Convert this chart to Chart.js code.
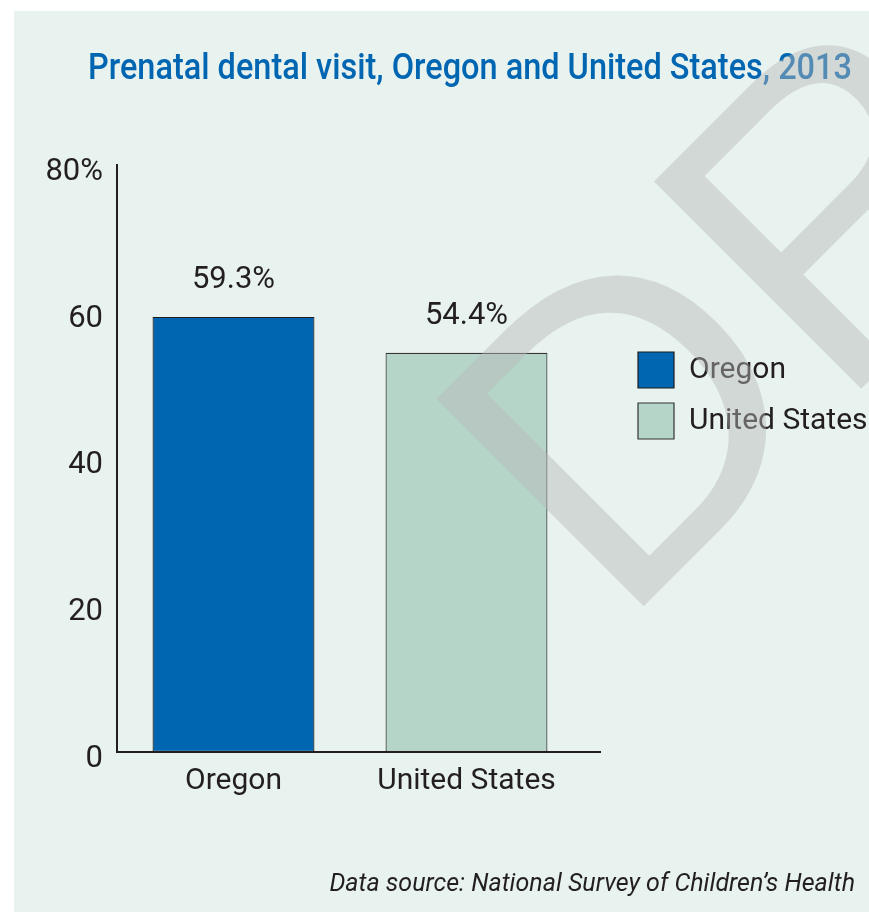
<!DOCTYPE html>
<html>
<head>
<meta charset="utf-8">
<script src="https://cdn.jsdelivr.net/npm/chart.js@4/dist/chart.umd.min.js"></script>
<style>
  html, body { margin: 0; padding: 0; background: #ffffff; }
  canvas { display: block; }
</style>
</head>
<body>
<canvas id="chart" width="869" height="912"></canvas>
<script>
// ---- data ----
const categories = ['Oregon', 'United States'];
const seriesNames = ['Oregon', 'United States'];
const oregonSeries = [59.3, null];
const unitedStatesSeries = [null, 54.4];
const yTickValues = [0, 20, 40, 60, 80];
const chartTitle = 'Prenatal dental visit, Oregon and United States, 2013';
const sourceNote = 'Data source: National Survey of Children’s Health';
const watermarkText = 'DRAFT';

// ---- look ----
const FONT = "Roboto, 'Liberation Sans', sans-serif";
const INK = '#231f20';
const PANEL = '#e8f2ef';
const BLUE = '#0066b1';
const SAGE = '#b5d5c8';
const NUM_SIZE = 31;   // numbers on the axis and above the bars
const WORD_SIZE = 30;  // category names and legend entries
const TITLE_LEFT = 88, TITLE_RIGHT = 852, TITLE_BASE = 79;

// legend geometry
const legendBox = 36;
const legendPad = 15;
const plotLeft = 117, plotRight = 583, legendGap = 40, yAxisWidth = 80;
const legendRoom = 869 - plotRight - legendGap;
const measure = document.createElement('canvas').getContext('2d');
measure.font = WORD_SIZE + 'px ' + FONT;
const widestName = Math.max(...seriesNames.map(s => measure.measureText(s).width));
const legendNatural = legendPad + legendBox + WORD_SIZE / 2 + widestName + 10;
const padRight = Math.max(0, legendRoom - legendNatural);

// background panel behind the chart
const panelPlugin = {
  id: 'panel',
  beforeDraw(chart) {
    const c = chart.ctx;
    c.save();
    c.fillStyle = '#ffffff';
    c.fillRect(0, 0, chart.width, chart.height);
    c.fillStyle = PANEL;
    c.fillRect(14, 11, chart.width - 14, chart.height - 11);
    c.restore();
  }
};

// x axis rule, running a little past the plot
const axisPlugin = {
  id: 'axisRule',
  afterDatasetsDraw(chart) {
    const c = chart.ctx, a = chart.chartArea;
    const y0 = chart.scales.y.getPixelForValue(0);
    c.save();
    c.strokeStyle = INK;
    c.lineWidth = 2;
    c.beginPath();
    c.moveTo(a.left, y0);
    c.lineTo(a.right + 18, y0);
    c.stroke();
    c.restore();
  }
};

// value labels above each bar
const valueLabelPlugin = {
  id: 'valueLabels',
  afterDatasetsDraw(chart) {
    const c = chart.ctx;
    c.save();
    c.font = NUM_SIZE + 'px ' + FONT;
    c.fillStyle = INK;
    c.textAlign = 'center';
    c.textBaseline = 'middle';
    chart.data.datasets.forEach((ds, di) => {
      const meta = chart.getDatasetMeta(di);
      meta.data.forEach((bar, i) => {
        const v = ds.data[i];
        if (v === null || v === undefined) return;
        c.fillText(v.toFixed(1) + '%', bar.x, bar.y - 37);
      });
    });
    c.restore();
  }
};

// title (set condensed to its span), source note, and the DRAFT stamp over everything
const textPlugin = {
  id: 'texts',
  afterDraw(chart) {
    const c = chart.ctx;
    c.save();
    c.fillStyle = BLUE;
    c.font = '500 36px ' + FONT;
    c.textAlign = 'left';
    c.textBaseline = 'alphabetic';
    const natural = c.measureText(chartTitle).width;
    const squeeze = Math.min(1, (TITLE_RIGHT - TITLE_LEFT) / natural);
    c.translate(TITLE_LEFT, TITLE_BASE);
    c.scale(squeeze, 1);
    c.fillText(chartTitle, 0, 0);
    c.restore();

    c.save();
    c.fillStyle = INK;
    c.font = 'italic 25px ' + FONT;
    c.textAlign = 'right';
    c.textBaseline = 'alphabetic';
    c.fillText(sourceNote, 855, 891);
    c.restore();

    c.save();
    c.beginPath();
    c.rect(14, 11, chart.width - 14, chart.height - 11);
    c.clip();
    c.translate(619, 631);
    c.rotate(-Math.PI / 4);
    c.font = "426px 'Liberation Sans', Arial, sans-serif";
    c.fillStyle = 'rgba(185,185,185,0.45)';
    c.textAlign = 'left';
    c.textBaseline = 'alphabetic';
    c.fillText(watermarkText, 0, 0);
    c.restore();
  }
};

new Chart(document.getElementById('chart'), {
  type: 'bar',
  data: {
    labels: categories,
    datasets: [
      { label: seriesNames[0], data: oregonSeries, backgroundColor: BLUE, borderColor: '#1c1c1e', borderWidth: 1.2, skipNull: true, borderSkipped: false },
      { label: seriesNames[1], data: unitedStatesSeries, backgroundColor: SAGE, borderColor: '#333333', borderWidth: 1.2, skipNull: true, borderSkipped: false }
    ]
  },
  options: {
    responsive: false,
    animation: false,
    devicePixelRatio: 1,
    categoryPercentage: 1,
    barPercentage: 0.695,
    layout: { padding: { top: 165, left: plotLeft - yAxisWidth, right: padRight, bottom: 100 } },
    scales: {
      x: {
        grid: { display: false, drawTicks: false },
        border: { display: false },
        ticks: { font: { family: FONT, size: WORD_SIZE }, color: INK, padding: 11 },
        afterFit(s) { s.height = 60; }
      },
      y: {
        min: 0,
        max: 80,
        afterBuildTicks(s) { s.ticks = yTickValues.map(v => ({ value: v })); },
        grid: { display: false, drawTicks: false },
        border: { display: true, color: INK, width: 2 },
        ticks: {
          font: { family: FONT, size: NUM_SIZE },
          color: INK,
          padding: 14,
          labelOffset: 7,
          callback: v => (v === yTickValues[yTickValues.length - 1] ? v + '%' : String(v))
        },
        afterFit(s) { s.width = yAxisWidth; }
      },
      y2: {
        position: 'right',
        display: true,
        grid: { display: false, drawTicks: false },
        border: { display: false },
        ticks: { display: false },
        afterFit(s) { s.width = legendGap; }
      }
    },
    plugins: {
      title: { display: false },
      tooltip: { enabled: false },
      legend: {
        position: 'right',
        align: 'start',
        fullSize: false,
        maxWidth: legendRoom,
        title: { display: true, text: '', font: { size: 12, lineHeight: 1 }, padding: { top: 160, bottom: 0 } },
        labels: {
          boxWidth: legendBox,
          boxHeight: legendBox,
          padding: legendPad,
          color: INK,
          font: { family: FONT, size: WORD_SIZE }
        }
      }
    }
  },
  plugins: [panelPlugin, axisPlugin, valueLabelPlugin, textPlugin]
});
</script>
</body>
</html>
